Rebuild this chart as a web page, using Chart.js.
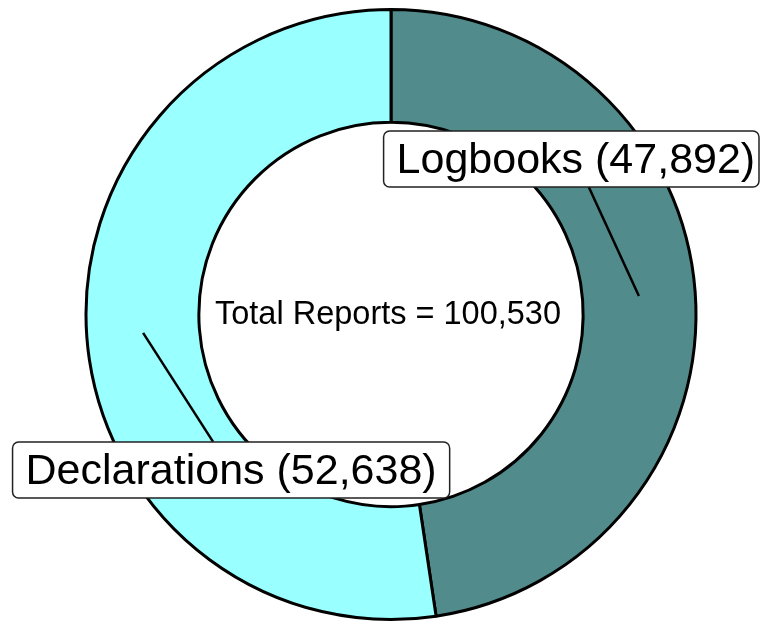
<!DOCTYPE html>
<html>
<head>
<meta charset="utf-8">
<script src="https://cdn.jsdelivr.net/npm/chart.js@4.4.0/dist/chart.umd.min.js"></script>
<style>
  html, body { margin: 0; padding: 0; background: #ffffff; }
  #wrap { width: 764px; height: 623px; }
</style>
</head>
<body>
<div id="wrap"><canvas id="donut" width="764" height="623"></canvas></div>
<script>
// data
const categories = ['Logbooks', 'Declarations'];
const reportCounts = [47892, 52638];
const sliceColours = ['#528b8b', '#99ffff'];
const centreTitle = 'Total Reports';
// where each label box sits relative to its slice centre (px)
const labelOffsets = [[-63, -137], [88, 137]];

const fmt = n => n.toLocaleString('en-US');
const total = reportCounts.reduce((a, b) => a + b, 0);

const labelPlugin = {
    id: 'labelPlugin',
    afterDatasetsDraw(chart) {
        const ctx = chart.ctx;
        const arcs = chart.getDatasetMeta(0).data;
        const cx = arcs[0].x, cy = arcs[0].y;

        // centre text
        ctx.save();
        ctx.font = '32.5px "Liberation Sans", Arial, sans-serif';
        ctx.fillStyle = '#000';
        ctx.textAlign = 'center';
        ctx.textBaseline = 'middle';
        ctx.fillText(centreTitle + ' = ' + fmt(total), cx - 3, cy + 1);
        ctx.restore();

        arcs.forEach((arc, i) => {
            const mid = (arc.startAngle + arc.endAngle) / 2;
            const r = (arc.innerRadius + arc.outerRadius) / 2;
            const px = cx + Math.cos(mid) * r;
            const py = cy + Math.sin(mid) * r;
            const bx = px + labelOffsets[i][0];
            const by = py + labelOffsets[i][1];

            const text = categories[i] + ' (' + fmt(reportCounts[i]) + ')';
            ctx.save();
            ctx.font = '43px "Liberation Sans", Arial, sans-serif';
            const w = ctx.measureText(text).width + 26;
            const h = 56;
            let x0 = bx - w / 2;
            const y0 = by - h / 2;
            let x1 = Math.min(x0 + w, chart.width - 5);
            x0 = Math.max(x0, 12);

            // leader line from slice centre to the box edge
            const dy = by - py;
            const edgeY = dy < 0 ? y0 + h : y0;
            const t = (edgeY - py) / dy;
            ctx.beginPath();
            ctx.moveTo(px, py);
            ctx.lineTo(px + (bx - px) * t, edgeY);
            ctx.lineWidth = 2.5;
            ctx.strokeStyle = '#000';
            ctx.stroke();

            ctx.beginPath();
            ctx.roundRect(x0, y0, x1 - x0, h, 6);
            ctx.fillStyle = '#fff';
            ctx.fill();
            ctx.lineWidth = 1.5;
            ctx.strokeStyle = '#222';
            ctx.stroke();

            ctx.fillStyle = '#000';
            ctx.textAlign = 'center';
            ctx.textBaseline = 'middle';
            ctx.fillText(text, bx, by + 2);
            ctx.restore();
        });
    }
};

window.addEventListener('load', function () {
    new Chart(document.getElementById('donut'), {
        type: 'doughnut',
        data: {
            labels: categories,
            datasets: [{
                data: reportCounts,
                backgroundColor: sliceColours,
                borderColor: '#000',
                borderWidth: 3,
                borderAlign: 'center'
            }]
        },
        options: {
            responsive: false,
            animation: false,
            cutout: '63%',
            rotation: 0,
            layout: { padding: { left: 84, right: 66, top: 8, bottom: 2 } },
            plugins: {
                legend: { display: false },
                tooltip: { enabled: false }
            }
        },
        plugins: [labelPlugin]
    });
});
</script>
</body>
</html>
